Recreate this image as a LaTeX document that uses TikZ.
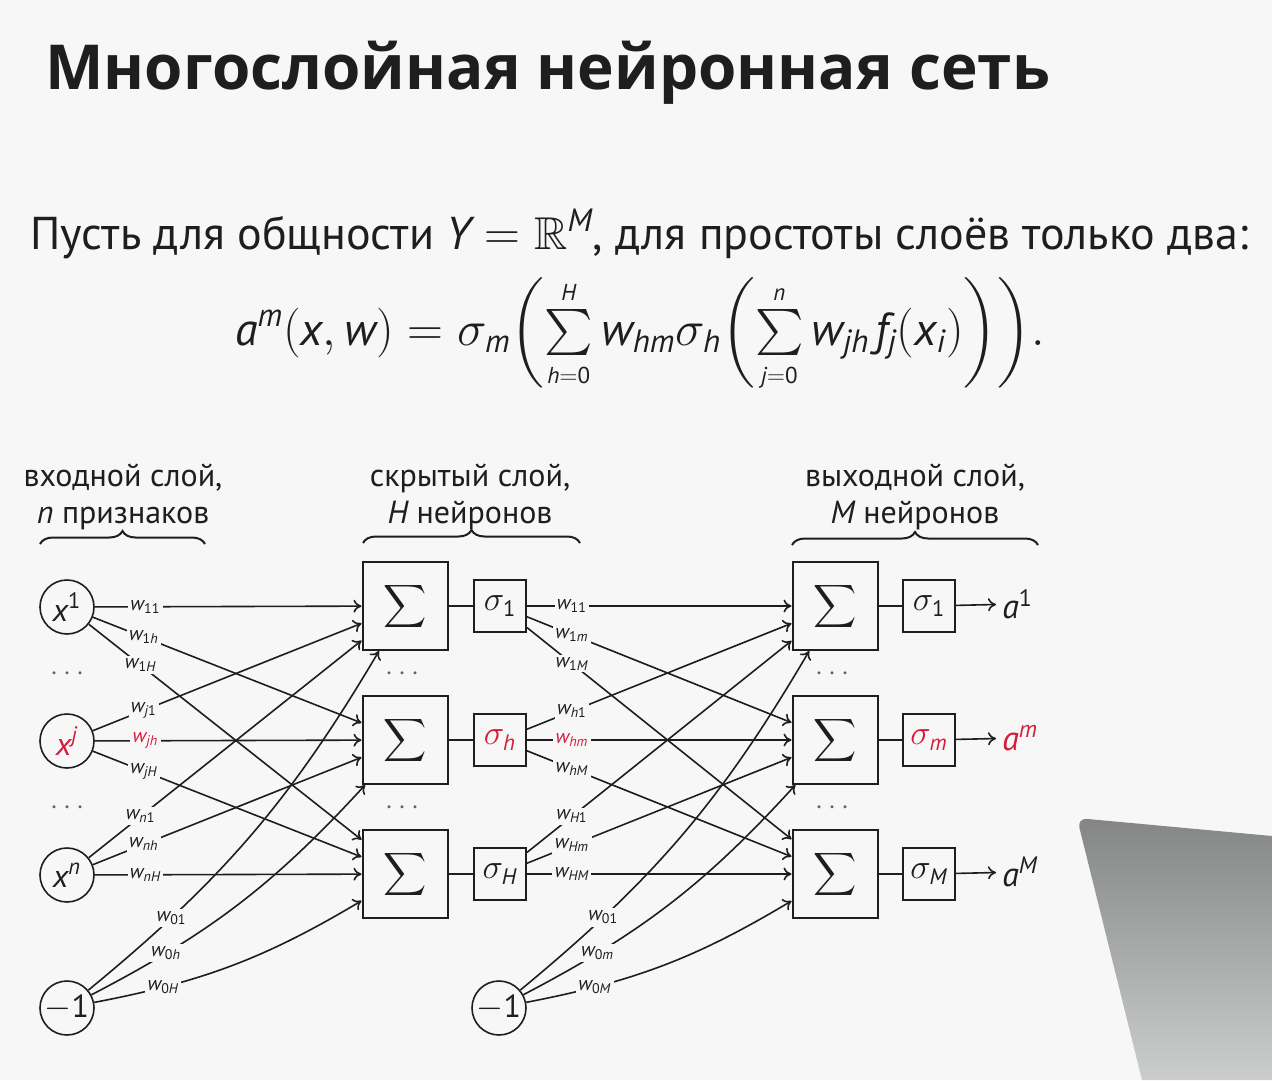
\documentclass[tikz,border=0pt]{standalone}
\usepackage{amsmath,amssymb}
\usepackage{fontspec}
\setmainfont{PT Sans}
\newfontfamily\ptsansfam{PT Sans}[NFSSFamily=ptsans]
\newfontfamily\titlefont{Open Sans}
% sans letters and digits for formulas
\DeclareSymbolFont{sansit}{TU}{ptsans}{m}{it}
\DeclareSymbolFont{sansup}{TU}{ptsans}{m}{n}
\DeclareMathSymbol{a}{\mathalpha}{sansit}{`a}
\DeclareMathSymbol{f}{\mathalpha}{sansit}{`f}
\DeclareMathSymbol{h}{\mathalpha}{sansit}{`h}
\DeclareMathSymbol{i}{\mathalpha}{sansit}{`i}
\DeclareMathSymbol{j}{\mathalpha}{sansit}{`j}
\DeclareMathSymbol{m}{\mathalpha}{sansit}{`m}
\DeclareMathSymbol{n}{\mathalpha}{sansit}{`n}
\DeclareMathSymbol{w}{\mathalpha}{sansit}{`w}
\DeclareMathSymbol{x}{\mathalpha}{sansit}{`x}
\DeclareMathSymbol{H}{\mathalpha}{sansit}{`H}
\DeclareMathSymbol{M}{\mathalpha}{sansit}{`M}
\DeclareMathSymbol{Y}{\mathalpha}{sansit}{`Y}
\AtBeginDocument{%
  \Umathcode`0=7 \symsansup `0
  \Umathcode`1=7 \symsansup `1
}
\usetikzlibrary{decorations.pathreplacing, arrows.meta}

\definecolor{bg}{RGB}{247,247,247}
\definecolor{ink}{RGB}{30,30,30}
\definecolor{hl}{RGB}{214,28,58}
\definecolor{lidtop}{RGB}{132,134,134}
\definecolor{lidbot}{RGB}{204,206,206}

\tikzset{
  neuron/.style={circle, draw, line width=0.8pt, minimum size=27pt, inner sep=0pt, font=\fontsize{16}{16}\selectfont},
  sumbox/.style={draw, line width=1pt, minimum width=42.5pt, minimum height=44pt, inner sep=0pt, font=\fontsize{15}{15}\selectfont},
  actbox/.style={draw, line width=1pt, minimum width=26pt, minimum height=26pt, inner sep=2pt, font=\fontsize{16}{16}\selectfont},
  wl/.style={fill=bg, inner sep=1.2pt, font=\fontsize{10}{10}\selectfont},
  link/.style={-{To[length=4pt,width=6.5pt]}, line width=0.8pt},
  wire/.style={line width=0.9pt},
  outlab/.style={anchor=west, inner sep=3pt, font=\fontsize{17}{17}\selectfont},
  layertext/.style={align=center, font=\fontsize{16}{18.5}\selectfont},
  dotrow/.style={text=ink!70, font=\fontsize{14}{14}\selectfont},
  layerbrace/.style={decorate, decoration={brace, amplitude=6.5pt}, line width=1pt},
}

\begin{document}
\begin{tikzpicture}[x=0.5pt, y=-0.5pt, color=ink]
\useasboundingbox (0,0) rectangle (1272,1080);
\fill[bg] (0,0) rectangle (1272,1080);

% laptop lid in the corner
\shade[top color=lidtop, bottom color=lidbot]
  (1272,836) [rounded corners=5pt] -- (1077,818) [sharp corners] -- (1142,1080) -- (1272,1080) -- cycle;

% headings and formula
\node[anchor=base west, inner sep=0pt, font=\fontsize{31}{31}\titlefont\bfseries] (title) at (45,90) {Многослойная нейронная сеть};
\node[anchor=base west, inner sep=0pt, font=\fontsize{23}{23}\selectfont] (intro) at (30,250)
  {Пусть для общности $Y=\mathbb{R}^M$, для простоты слоёв только два:};
\node[anchor=base, inner sep=0pt, font=\fontsize{23}{23}\selectfont] (formula) at (640,345)
  {$a^m(x,w)=\sigma_m\biggl(\sum\limits_{\scriptscriptstyle h=0}^{\scriptscriptstyle H} w_{hm}\sigma_h\biggl(\sum\limits_{\scriptscriptstyle j=0}^{\scriptscriptstyle n} w_{jh}\mkern2mu f_j(x_i)\biggr)\biggr).$};

% layer captions
\node[layertext] (capin) at (123,497) {входной слой,\\$n$ признаков};
\node[layertext] (caphid) at (470,497) {скрытый слой,\\$H$ нейронов};
\node[layertext] (capout) at (915,497) {выходной слой,\\$M$ нейронов};
\draw[layerbrace] (40,544) -- (205,544);
\draw[layerbrace] (363,543) -- (580,543);
\draw[layerbrace] (792,545) -- (1038,545);

% input layer
\node[neuron] (x1) at (67,607) {$x^1$};
\node[neuron, text=hl] (xj) at (67,741) {$x^j$};
\node[neuron] (xn) at (67,875) {$x^n$};
\node[neuron] (b1) at (67,1008) {$-1$};
\node[dotrow] (din1) at (70,674) {$\cdots$};
\node[dotrow] (din2) at (70,808) {$\cdots$};

% hidden layer
\node[sumbox] (s1) at (405,606) {$\displaystyle\sum$};
\node[sumbox] (sh) at (405,740) {$\displaystyle\sum$};
\node[sumbox] (sH) at (405,874) {$\displaystyle\sum$};
\node[actbox] (f1) at (500,606) {$\sigma_1$};
\node[actbox, text=hl] (fh) at (500,740) {$\sigma_h$};
\node[actbox] (fH) at (500,874) {$\sigma_H$};
\node[dotrow] (dh1) at (405,674) {$\cdots$};
\node[dotrow] (dh2) at (405,808) {$\cdots$};
\node[neuron] (b2) at (499,1008) {$-1$};

% output layer
\node[sumbox] (o1) at (835,606) {$\displaystyle\sum$};
\node[sumbox] (om) at (835,740) {$\displaystyle\sum$};
\node[sumbox] (oM) at (835,874) {$\displaystyle\sum$};
\node[actbox] (g1) at (929,606) {$\sigma_1$};
\node[actbox, text=hl] (gm) at (929,740) {$\sigma_m$};
\node[actbox] (gM) at (929,874) {$\sigma_M$};
\node[dotrow] (do1) at (835,674) {$\cdots$};
\node[dotrow] (do2) at (835,808) {$\cdots$};
\node[outlab] (a1) at (996,604) {$a^1$};
\node[outlab, text=hl] (am) at (996,738) {$a^m$};
\node[outlab] (aM) at (996,872) {$a^M$};

% input -> hidden
\draw[link] (x1) -- node[wl,pos=0.19] {$w_{11}$} (s1);
\draw[link] (x1) -- node[wl,pos=0.19] {$w_{1h}$} (sh);
\draw[link] (x1) -- node[wl,pos=0.19] {$w_{1H}$} (sH);
\draw[link] (xj) -- node[wl,pos=0.19] {$w_{j1}$} (s1);
\draw[link] (xj) -- node[wl,pos=0.19,text=hl] {$w_{jh}$} (sh);
\draw[link] (xj) -- node[wl,pos=0.19] {$w_{jH}$} (sH);
\draw[link] (xn) -- node[wl,pos=0.19] {$w_{n1}$} (s1);
\draw[link] (xn) -- node[wl,pos=0.19] {$w_{nh}$} (sh);
\draw[link] (xn) -- node[wl,pos=0.19] {$w_{nH}$} (sH);
\draw[link] (b1) to[bend right=10] node[wl,pos=0.23] {$w_{01}$} (s1);
\draw[link] (b1) to[bend right=10] node[wl,pos=0.23] {$w_{0h}$} (sh);
\draw[link] (b1) to[bend right=10] node[wl,pos=0.23] {$w_{0H}$} (sH);

% sum -> activation, hidden
\draw[wire] (s1) -- (f1);
\draw[wire] (sh) -- (fh);
\draw[wire] (sH) -- (fH);

% hidden -> output
\draw[link] (f1) -- node[wl,pos=0.17] {$w_{11}$} (o1);
\draw[link] (f1) -- node[wl,pos=0.17] {$w_{1m}$} (om);
\draw[link] (f1) -- node[wl,pos=0.17] {$w_{1M}$} (oM);
\draw[link] (fh) -- node[wl,pos=0.17] {$w_{h1}$} (o1);
\draw[link] (fh) -- node[wl,pos=0.17,text=hl] {$w_{hm}$} (om);
\draw[link] (fh) -- node[wl,pos=0.17] {$w_{hM}$} (oM);
\draw[link] (fH) -- node[wl,pos=0.17] {$w_{H1}$} (o1);
\draw[link] (fH) -- node[wl,pos=0.17] {$w_{Hm}$} (om);
\draw[link] (fH) -- node[wl,pos=0.17] {$w_{HM}$} (oM);
\draw[link] (b2) to[bend right=10] node[wl,pos=0.23] {$w_{01}$} (o1);
\draw[link] (b2) to[bend right=10] node[wl,pos=0.23] {$w_{0m}$} (om);
\draw[link] (b2) to[bend right=10] node[wl,pos=0.23] {$w_{0M}$} (oM);

% sum -> activation -> answer, output
\draw[wire] (o1) -- (g1);
\draw[wire] (om) -- (gm);
\draw[wire] (oM) -- (gM);
\draw[link] (g1) -- (a1);
\draw[link] (gm) -- (am);
\draw[link] (gM) -- (aM);
\end{tikzpicture}
\end{document}
